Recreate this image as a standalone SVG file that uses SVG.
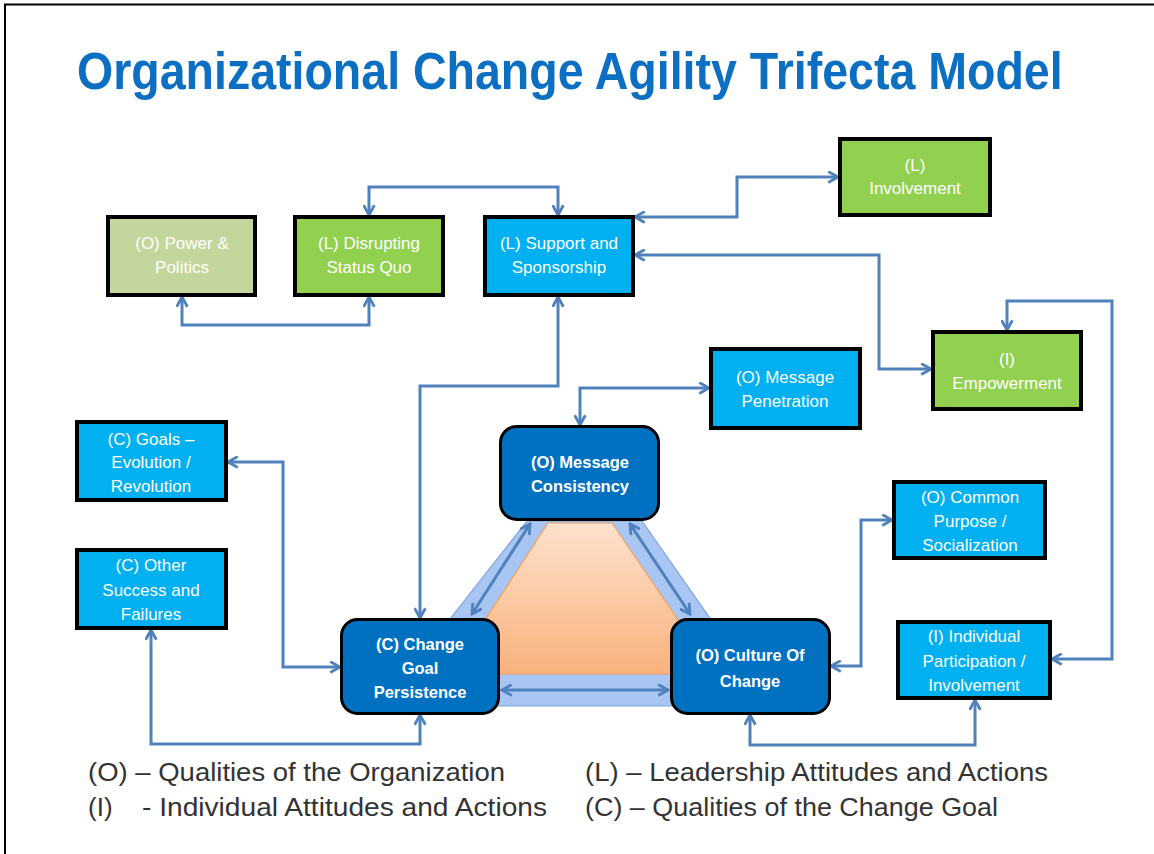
<svg xmlns="http://www.w3.org/2000/svg" width="1154" height="854" viewBox="0 0 1154 854">
<defs>
<marker id="arr" viewBox="0 0 12 12" refX="10.5" refY="6" markerWidth="13" markerHeight="13" markerUnits="userSpaceOnUse" orient="auto-start-reverse">
<path d="M1.5,1 L10.5,6 L1.5,11" fill="none" stroke="#4f81bd" stroke-width="2.6" stroke-linejoin="miter"/>
</marker>
<linearGradient id="org" x1="0" y1="0" x2="0" y2="1">
<stop offset="0" stop-color="#fde1cc"/>
<stop offset="1" stop-color="#f9b27c"/>
</linearGradient>
<style>
.sq{stroke:#000;stroke-width:4}
.rd{fill:#0070c0;stroke:#000;stroke-width:3}
.g1{fill:#c3d69b}
.g2{fill:#92d050}
.b1{fill:#00b0f0}
.t{font-family:"Liberation Sans",Arial,sans-serif;font-size:17px;fill:#fff;text-anchor:middle}
.tb{font-family:"Liberation Sans",Arial,sans-serif;font-size:16.5px;font-weight:bold;fill:#fff;text-anchor:middle}
.c{fill:none;stroke:#4f81bd;stroke-width:3;marker-start:url(#arr);marker-end:url(#arr)}
.lg{font-family:"Liberation Sans",Arial,sans-serif;font-size:26px;fill:#333}
</style>
</defs>
<rect x="0" y="0" width="1154" height="854" fill="#fff"/>
<path d="M5,854 V4.5 H1154" fill="none" stroke="#000" stroke-width="2"/>
<g id="title" transform="translate(77,89) scale(0.8,1)">
<text x="0" y="0" font-family="'Liberation Sans',Arial,sans-serif" font-size="51" font-weight="bold" fill="#0c6fc2" textLength="1232" lengthAdjust="spacingAndGlyphs">Organizational Change Agility Trifecta Model</text>
</g>

<g id="triangle">
<polygon points="446,624 527,521 642,521 714,624 714,706 446,706" fill="#a9c5f2" stroke="#7aa3e0" stroke-width="1.2"/>
<polygon points="548,523 612,523 715,674 450,674" fill="url(#org)" stroke="#f0a060" stroke-width="1.2"/>
</g>

<g id="connectors">
<path class="c" d="M369,215 V187 H558 V215"/>
<path class="c" d="M182,297 V325 H369 V297"/>
<path class="c" d="M635,217 H737 V177 H838"/>
<path class="c" d="M635,255 H879 V369 H931"/>
<path class="c" d="M1007,330 V301 H1112 V659 H1052"/>
<path class="c" d="M558,297 V386 H420 V618"/>
<path class="c" d="M580,425 V388 H709"/>
<path class="c" d="M228,462 H283 V667 H340"/>
<path class="c" d="M151,630 V744 H420 V715"/>
<path class="c" d="M831,666 H861 V520 H892"/>
<path class="c" d="M750,715 V745 H975 V700"/>
<path class="c" d="M530,524 L472,614"/>
<path class="c" d="M630,524 L690,614"/>
<path class="c" d="M502,690 H668"/>
</g>

<g id="n-power"><rect class="sq g1" x="108" y="217" width="147" height="78"/><text class="t" x="182" y="249">(O) Power &amp;</text><text class="t" x="182" y="273">Politics</text></g>
<g id="n-disrupting"><rect class="sq g2" x="295" y="217" width="148" height="78"/><text class="t" x="369" y="249">(L) Disrupting</text><text class="t" x="369" y="273">Status Quo</text></g>
<g id="n-support"><rect class="sq b1" x="485" y="217" width="148" height="78"/><text class="t" x="559" y="249">(L) Support and</text><text class="t" x="559" y="273">Sponsorship</text></g>
<g id="n-involvement"><rect class="sq g2" x="840" y="139" width="150" height="76"/><text class="t" x="915" y="171">(L)</text><text class="t" x="915" y="194">Involvement</text></g>
<g id="n-empowerment"><rect class="sq g2" x="933" y="332" width="148" height="77"/><text class="t" x="1007" y="365">(I)</text><text class="t" x="1007" y="389">Empowerment</text></g>
<g id="n-penetration"><rect class="sq b1" x="711" y="349" width="149" height="79"/><text class="t" x="785" y="383">(O) Message</text><text class="t" x="785" y="407">Penetration</text></g>
<g id="n-goals"><rect class="sq b1" x="77" y="422" width="149" height="78"/><text class="t" x="151" y="445">(C) Goals –</text><text class="t" x="151" y="468">Evolution /</text><text class="t" x="151" y="492">Revolution</text></g>
<g id="n-other"><rect class="sq b1" x="77" y="550" width="149" height="78"/><text class="t" x="151" y="571">(C) Other</text><text class="t" x="151" y="596">Success and</text><text class="t" x="151" y="620">Failures</text></g>
<g id="n-common"><rect class="sq b1" x="894" y="482" width="151" height="76"/><text class="t" x="970" y="503">(O) Common</text><text class="t" x="970" y="527">Purpose /</text><text class="t" x="970" y="551">Socialization</text></g>
<g id="n-individual"><rect class="sq b1" x="898" y="622" width="152" height="76"/><text class="t" x="974" y="642">(I) Individual</text><text class="t" x="974" y="667">Participation /</text><text class="t" x="974" y="691">Involvement</text></g>
<g id="n-consistency"><rect class="rd" x="500.5" y="426.5" width="158" height="93" rx="16"/><text class="tb" x="580" y="468">(O) Message</text><text class="tb" x="580" y="492">Consistency</text></g>
<g id="n-persistence"><rect class="rd" x="341.5" y="619.5" width="157" height="94" rx="16"/><text class="tb" x="420" y="650">(C) Change</text><text class="tb" x="420" y="674">Goal</text><text class="tb" x="420" y="698">Persistence</text></g>
<g id="n-culture"><rect class="rd" x="671.5" y="619.5" width="158" height="94" rx="16"/><text class="tb" x="750" y="661">(O) Culture Of</text><text class="tb" x="750" y="687">Change</text></g>

<g id="legend">
<text class="lg" x="88" y="781" textLength="417" lengthAdjust="spacingAndGlyphs">(O) – Qualities of the Organization</text>
<text class="lg" x="585" y="781" textLength="463" lengthAdjust="spacingAndGlyphs">(L) – Leadership Attitudes and Actions</text>
<text class="lg" x="88" y="816">(I)</text>
<text class="lg" x="142" y="816" textLength="405" lengthAdjust="spacingAndGlyphs">- Individual Attitudes and Actions</text>
<text class="lg" x="585" y="816" textLength="413" lengthAdjust="spacingAndGlyphs">(C) – Qualities of the Change Goal</text>
</g>
</svg>
